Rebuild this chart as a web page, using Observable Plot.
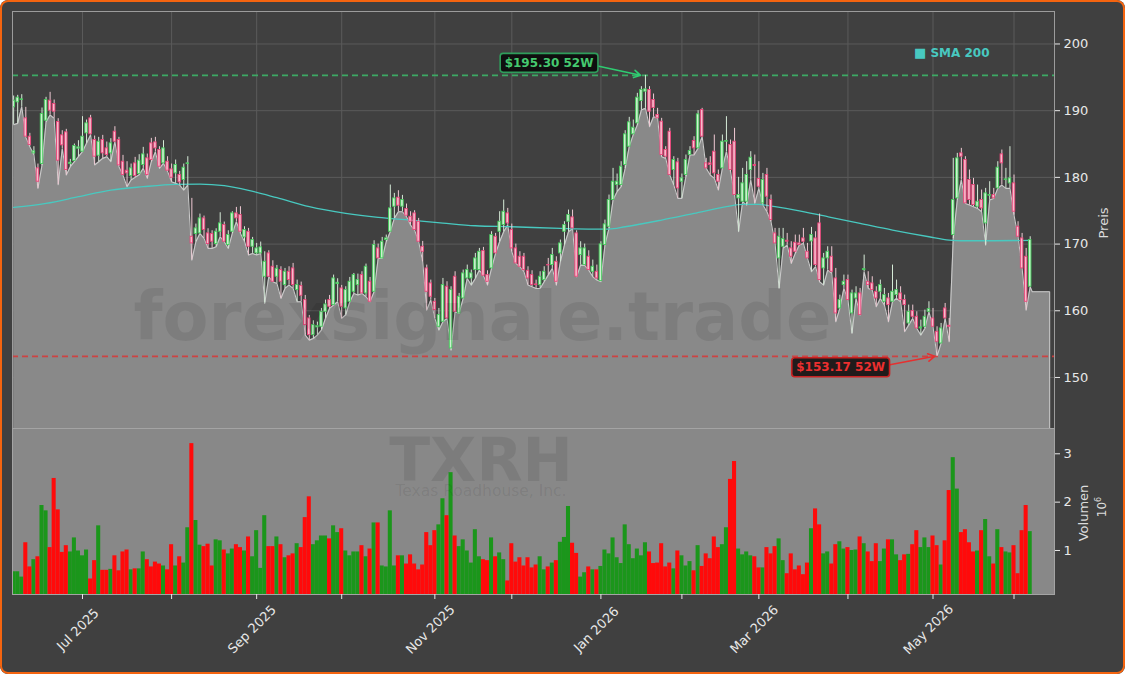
<!DOCTYPE html>
<html><head><meta charset="utf-8">
<script src="https://cdn.jsdelivr.net/npm/d3@7"></script>
<script src="https://cdn.jsdelivr.net/npm/@observablehq/plot@0.6"></script>
<style>
html,body{margin:0;padding:0;background:#ffffff;}
#fig{position:relative;width:1125px;height:674px;background:#404040;overflow:hidden;font-family:"DejaVu Sans",sans-serif;border-radius:8px;}
#border{position:absolute;left:0;top:0;width:1125px;height:674px;box-sizing:border-box;border:2.5px solid #f5640f;border-radius:8px;pointer-events:none;z-index:20;}
.ov{position:absolute;white-space:nowrap;pointer-events:none;z-index:5;}
.rot{transform:translate(-50%,-50%) rotate(-90deg);color:#dcdcdc;font-size:13px;}
.wm{font-weight:bold;color:rgba(0,0,0,0.085);transform:translateX(-50%);line-height:1;}
svg{position:absolute;left:0;}
</style></head>
<body>
<div id="fig"><div id="border"></div></div>
<script>
// ---- data (index = trading day, starting Jun 5 2025) ----
const open = [
190.5,191.25,191.6,188.85,186.1,183.6,181.35,182.0,188.5,191.5,
191.0,188.3,186.3,186.75,182.0,182.45,184.3,183.85,186.6,188.85,
185.6,183.25,185.6,184.35,183.6,186.85,185.6,182.35,181.0,180.2,
182.1,180.5,181.85,182.85,185.1,185.25,184.1,182.1,182.35,181.2,
180.6,180.35,179.6,182.0,171.1,171.5,171.6,173.85,171.6,171.5,
170.0,171.85,172.85,169.85,171.85,174.6,174.35,171.0,171.85,169.6,
168.6,168.6,165.1,168.6,166.6,165.1,166.1,163.85,165.85,166.35,
163.1,163.7,161.6,158.85,156.35,157.5,157.6,159.85,161.6,160.85,
164.0,163.35,160.35,161.35,162.85,163.85,165.35,162.6,164.35,162.85,
169.35,167.85,170.6,171.85,175.6,176.95,175.6,175.25,174.1,174.6,
173.35,169.6,166.35,164.1,161.35,157.6,158.35,163.6,154.35,165.1,
159.6,161.85,164.85,164.85,166.1,166.1,168.95,165.35,166.35,171.1,
171.85,172.85,174.6,172.1,169.35,168.1,168.1,166.0,165.35,163.95,
163.85,164.6,166.85,166.85,167.35,168.6,171.85,173.35,174.0,171.6,
168.35,166.85,168.1,165.85,165.85,164.45,169.85,172.6,176.6,178.85,
178.85,181.85,184.6,186.45,188.1,191.45,192.85,193.1,191.6,189.35,
188.35,184.1,186.85,181.1,182.25,179.35,180.35,183.35,185.45,184.35,
190.1,182.1,182.1,183.85,180.35,181.35,185.35,184.85,185.35,176.85,
176.35,176.35,181.1,181.85,179.75,176.1,180.35,176.6,171.6,167.85,
169.6,170.5,169.35,170.2,170.1,170.85,168.85,170.4,170.85,173.1,
166.35,167.85,168.1,164.85,160.35,163.85,164.6,159.6,161.85,162.6,
166.1,164.35,164.1,162.85,162.85,161.35,161.85,161.35,162.35,162.6,
161.6,158.1,159.95,159.1,157.35,157.6,159.85,158.85,156.85,155.1,
160.35,157.75,171.35,176.85,183.6,182.6,179.6,178.85,175.6,176.6,
173.1,177.25,177.35,178.35,183.45,179.6,179.1,179.1,172.6,170.85,
168.1,163.6];
const high = [
192.2,192.3,192.4,190.5,186.6,184.6,182.0,190.4,192.0,192.75,
191.6,188.8,187.0,187.2,182.7,185.0,185.5,189.1,188.6,189.3,
186.2,186.0,186.3,185.3,185.8,187.6,186.0,183.3,182.35,182.0,
183.0,183.4,184.5,183.5,185.85,186.0,184.6,185.5,183.1,182.0,
182.6,180.9,182.0,183.1,176.85,173.0,174.5,174.2,172.3,172.0,
172.3,174.7,173.3,172.0,174.85,175.5,175.6,172.6,172.35,171.0,
170.1,170.3,168.85,169.0,167.5,166.8,166.6,166.35,166.6,167.1,
164.6,164.3,162.3,159.3,158.5,158.3,160.35,161.6,162.3,165.35,
164.8,163.8,163.6,165.0,165.6,165.5,165.85,167.0,165.0,170.5,
170.0,171.0,171.35,178.85,177.6,178.0,177.3,176.0,174.85,175.0,
173.85,170.4,166.85,164.6,161.85,160.35,164.85,164.35,163.6,165.85,
162.6,166.1,166.85,166.1,168.6,169.35,169.5,166.0,171.85,171.6,
174.85,176.6,175.35,173.0,170.0,168.85,168.6,166.6,166.0,164.6,
165.85,166.6,167.85,169.35,168.1,170.6,173.35,175.1,175.1,172.0,
170.35,170.0,169.0,167.6,166.85,170.35,173.6,177.35,181.35,180.5,
182.35,187.0,189.0,188.6,192.6,193.6,195.3,193.6,192.5,190.35,
188.85,184.6,187.35,183.1,182.85,180.5,183.35,184.6,186.1,190.0,
190.35,182.85,183.1,186.35,181.1,186.35,189.1,185.6,187.35,180.0,
181.35,182.35,183.85,183.35,182.35,180.6,181.35,177.35,172.35,172.35,
172.35,171.6,170.35,171.35,171.35,172.35,170.1,172.5,171.85,174.5,
168.6,169.6,169.6,166.35,162.35,165.35,165.35,163.1,163.6,163.35,
168.35,165.85,165.1,163.6,164.6,163.35,162.6,166.85,164.6,163.6,
162.35,160.85,160.85,159.85,158.6,160.1,161.35,160.35,157.6,158.1,
161.1,158.85,182.85,183.6,184.35,183.1,181.1,179.85,178.85,178.1,
178.35,179.35,178.35,182.35,184.1,181.35,184.6,180.35,173.35,171.6,
169.35,171.1];
const low = [
187.9,188.1,190.6,186.0,184.6,183.4,178.35,181.8,188.3,189.35,
188.85,178.9,184.3,180.35,181.6,182.35,183.1,183.85,185.1,186.35,
181.85,182.35,182.85,183.1,182.35,185.35,181.6,180.3,178.6,179.6,
180.0,180.4,181.35,179.85,182.35,183.8,181.35,182.1,180.9,179.35,
179.1,178.85,178.1,178.85,167.6,170.35,171.6,170.85,169.35,169.35,
169.6,171.1,170.35,169.35,171.6,173.35,171.6,170.4,168.35,168.6,
168.35,168.6,161.1,165.1,164.35,164.1,161.85,163.35,163.85,163.35,
161.35,161.35,156.35,155.6,155.85,156.35,157.1,158.85,160.35,160.85,
161.35,158.85,159.4,161.3,162.6,162.35,162.6,162.1,161.35,162.85,
167.85,167.85,170.35,171.85,173.85,174.85,174.85,174.1,172.85,172.1,
170.35,167.35,160.1,161.6,158.85,157.1,158.35,158.85,154.1,159.85,
159.6,161.85,164.85,163.85,164.85,166.1,165.25,163.85,166.35,168.6,
170.35,171.85,172.85,168.85,167.1,166.6,165.85,163.85,163.6,163.35,
163.35,164.35,165.35,166.35,163.85,167.35,169.85,171.85,172.3,165.1,
166.85,166.8,166.1,165.1,164.6,164.35,169.85,172.35,176.6,177.85,
178.6,181.35,184.6,186.4,187.85,190.1,190.35,187.6,189.1,188.85,
183.1,182.85,180.35,178.85,176.85,176.85,180.1,183.35,183.35,184.35,
186.1,181.35,180.35,179.85,178.1,181.35,183.85,180.85,177.35,171.85,
176.35,175.85,179.6,176.1,178.35,175.85,174.85,173.35,170.1,163.35,
169.35,169.85,167.1,168.6,169.85,170.1,167.85,165.85,166.6,164.35,
163.85,166.1,165.6,158.35,160.35,163.35,161.6,156.6,161.85,159.35,
165.85,163.35,163.1,160.6,161.85,160.85,158.35,161.35,161.85,161.35,
156.85,157.85,158.85,157.35,156.35,157.35,159.85,157.6,153.17,155.1,
158.85,155.35,170.85,176.6,179.6,176.1,175.85,175.6,175.35,174.85,
169.85,176.6,176.85,178.35,178.85,178.35,178.35,174.35,171.1,166.35,
160.1,163.6];
const close = [
191.5,191.95,191.7,186.1,184.85,183.9,179.35,189.5,191.6,190.0,
189.85,182.5,184.8,181.1,182.2,184.7,184.5,186.1,188.1,186.45,
183.1,185.35,183.6,183.35,185.1,185.35,181.8,180.35,180.6,181.35,
180.2,182.5,183.45,180.35,182.6,184.35,181.6,184.35,181.0,179.95,
181.85,179.25,181.45,182.1,170.1,172.35,173.85,172.1,170.0,170.35,
171.85,173.1,170.35,171.35,174.6,173.85,171.85,172.1,169.6,170.6,
169.35,169.5,167.35,165.1,164.35,166.3,164.35,165.85,164.6,163.85,
163.85,162.25,157.85,156.35,157.85,157.7,159.85,160.95,160.6,164.85,
164.2,160.6,163.1,164.35,165.35,164.6,162.6,166.6,161.35,169.85,
167.85,170.35,170.85,175.35,176.85,175.75,176.6,174.25,173.35,172.1,
170.35,168.85,162.85,162.1,160.1,159.35,163.85,158.85,163.1,159.85,
162.1,165.6,166.1,165.6,167.85,168.85,165.25,164.35,171.35,168.6,
173.35,174.85,173.1,169.35,167.1,166.6,166.1,164.85,163.85,163.85,
165.1,165.85,166.8,168.35,164.35,170.1,172.85,174.35,172.35,165.1,
169.35,169.35,166.1,166.6,164.85,169.95,172.95,176.6,179.35,179.35,
181.6,186.45,188.25,187.45,191.95,193.1,193.2,189.85,190.4,188.85,
183.35,183.1,180.35,182.6,178.35,179.85,182.6,183.95,184.35,189.45,
186.1,181.35,181.85,180.6,179.35,185.35,185.45,181.1,177.35,177.35,
179.1,180.35,182.95,181.7,178.6,179.6,177.1,173.6,170.1,171.1,
170.75,170.35,168.1,168.85,169.85,170.35,167.85,171.35,166.85,164.6,
167.85,168.85,165.85,159.6,161.6,164.35,161.6,162.6,162.6,159.35,
166.25,163.85,163.1,161.85,163.85,162.35,160.85,162.85,163.1,161.6,
160.85,159.85,159.1,157.35,157.5,159.1,160.25,157.6,155.35,157.35,
158.85,157.6,176.6,182.85,183.1,176.1,176.6,175.85,176.35,175.35,
177.6,177.35,176.85,181.45,182.1,179.7,179.85,174.85,171.1,166.35,
161.35,170.6];
const volume = [ // millions
0.56,0.56,0.45,1.16,0.66,0.81,0.87,1.93,1.82,1.06,
2.49,1.84,0.96,1.1,0.97,1.26,0.99,0.89,1.01,0.41,
0.79,1.51,0.59,0.59,0.61,0.89,0.58,0.97,1.01,0.6,
0.62,0.62,0.97,0.81,0.66,0.76,0.72,0.68,0.6,1.12,
0.68,0.87,0.74,1.47,3.21,1.62,1.11,1.08,1.13,0.68,
1.22,1.2,1.01,0.93,1.03,1.12,1.06,0.99,1.28,0.87,
1.41,0.63,1.72,1.08,1.08,1.28,1.12,0.85,0.89,0.93,
1.14,1.06,1.68,2.11,1.12,1.2,1.3,1.3,1.24,1.51,
1.37,1.45,0.99,0.89,0.97,0.97,1.1,0.87,1.03,1.57,
1.57,0.68,0.66,1.82,0.68,0.89,0.89,0.72,0.91,0.72,
0.6,0.7,1.37,1.1,1.41,1.53,2.07,1.72,2.61,1.3,
1.08,1.22,0.99,0.74,1.43,0.87,0.81,0.79,1.26,0.87,
0.95,0.81,0.37,1.14,0.76,0.85,0.68,0.85,0.64,0.7,
0.87,0.6,0.66,0.74,0.79,1.17,1.27,1.91,1.15,0.94,
0.45,0.54,0.66,0.6,0.6,0.67,1.01,0.93,1.26,0.85,
0.73,1.53,1.12,0.83,1.03,0.89,1.16,0.97,0.73,0.74,
1.14,0.66,0.74,0.62,0.99,0.89,0.68,0.77,0.58,1.1,
0.67,0.93,0.83,1.28,1.06,1.12,1.47,2.47,2.84,1.03,
0.91,0.97,0.89,0.87,0.64,0.64,1.06,0.93,1.08,1.24,
0.79,0.52,0.93,0.6,0.68,0.5,0.74,1.45,1.86,1.53,
0.93,0.97,0.72,1.12,1.18,1.03,1.06,1.0,1.01,1.28,
1.14,0.97,0.77,1.14,0.77,1.03,1.22,1.22,0.91,0.79,
0.91,0.92,1.12,1.41,1.06,1.26,1.06,1.3,1.1,0.7,
1.2,2.24,2.92,2.27,1.37,1.43,1.16,0.97,0.99,1.41,
1.64,0.87,0.72,1.43,1.06,0.97,0.95,1.1,0.52,1.41,
1.93,1.39];
const smaIdx = [0,8,16,24,32,40,46,52,58,65,73,82,90,98,106,114,123,135,143,147,151,160,168,176,180,184,188,193,201,209,217,226,231,234,242,251];
const smaVal = [175.5,176.1,177.1,178.1,178.6,178.95,179.0,178.75,178.05,176.95,175.6,174.6,174.0,173.6,173.15,172.75,172.6,172.35,172.25,172.25,172.6,173.6,174.6,175.6,175.95,175.95,175.6,175.1,174.1,173.1,172.1,171.1,170.6,170.5,170.5,170.55];
const monthIdx = [17,39,60,81,104,123,145,165,184,206,227,247];
const monthLabel = ["Jul 2025","","Sep 2025","","Nov 2025","","Jan 2026","","Mar 2026","","May 2026",""];
const priceTicks = [150,160,170,180,190,200];
const volTicks = [1,2,3];
const tailLow = 162.85, tailStart = 251.5, tailEnd = 255.8;

// ---- scales / layout ----
const W = 1125, ML = 12, MR = 71;
const xDomain = [-0.284, 257.0];
const priceDomain = [142.35, 204.87];
const volDomain = [0.09, 3.523];
const FONT = "DejaVu Sans, sans-serif";

const bars = open.map((o, i) => ({i, o, h: high[i], l: low[i], c: close[i], v: volume[i], up: close[i] >= o}));
const upBars = bars.filter(d => d.up), dnBars = bars.filter(d => !d.up);
const areaData = low.map((v, i) => ({i, v})).concat([{i: tailStart, v: tailLow}, {i: tailEnd, v: tailLow}]);
const edgeData = areaData.concat([{i: tailEnd, v: priceDomain[0]}]);
const smaData = smaIdx.map((x, k) => ({x, y: smaVal[k]}));

const hiIdx = d3.maxIndex(high), hi = high[hiIdx];
const loIdx = d3.minIndex(low), lo = low[loIdx];
const hiText = `$${hi.toFixed(2)} 52W`, loText = `$${lo.toFixed(2)} 52W`;

const bw = 0.31;
const style = {background: "transparent", color: "#e8e8e8", fontFamily: FONT, fontSize: "13px", overflow: "visible"};

const price = Plot.plot({
  width: W, height: 428, marginLeft: ML, marginRight: MR, marginTop: 11, marginBottom: 0,
  style,
  x: {domain: xDomain, axis: null},
  y: {domain: priceDomain, axis: null},
  marks: [
    Plot.gridY(priceTicks, {stroke: "#5a5a5a", strokeOpacity: 1}),
    Plot.gridX(monthIdx, {stroke: "#5a5a5a", strokeOpacity: 1}),
    Plot.areaY(areaData, {x: "i", y1: priceDomain[0], y2: "v", fill: "#898989", clip: true}),
    Plot.line(edgeData, {x: "i", y: "v", stroke: "#c9c9c9", strokeWidth: 1.1, clip: true}),
    Plot.ruleY([hi], {stroke: "#3caa64", strokeWidth: 1.6, strokeDasharray: "6,4"}),
    Plot.ruleY([lo], {stroke: "#d43c3c", strokeWidth: 1.6, strokeDasharray: "6,4", strokeOpacity: 0.9}),
    Plot.line(smaData, {x: "x", y: "y", stroke: "#48c9c0", strokeWidth: 1.3, curve: "monotone-x"}),
    Plot.ruleX(upBars, {x: "i", y1: "l", y2: "h", stroke: "#d5ead7", strokeWidth: 1, clip: true}),
    Plot.ruleX(dnBars, {x: "i", y1: "l", y2: "h", stroke: "#efc9d3", strokeWidth: 1, clip: true}),
    Plot.rect(upBars, {x1: d => d.i - bw, x2: d => d.i + bw, y1: "o", y2: "c", fill: "#cdf0d0", stroke: "#45cc5c", strokeWidth: 0.9, clip: true}),
    Plot.rect(dnBars, {x1: d => d.i - bw, x2: d => d.i + bw, y1: "o", y2: "c", fill: "#f6bccc", stroke: "#ea4479", strokeWidth: 0.9, clip: true}),
    Plot.arrow([{}], {x1: hiIdx - 11.8, y1: hi + 1.4, x2: hiIdx - 1.2, y2: hi, stroke: "#2ecc71", strokeWidth: 1.6, headLength: 7}),
    Plot.arrow([{}], {x1: loIdx - 12, y1: lo - 1.3, x2: loIdx - 0.6, y2: lo, stroke: "#e63030", strokeWidth: 1.6, headLength: 7}),
    Plot.text([hiText], {x: hiIdx - 23.8, y: hi + 1.85, text: d => d, fill: "#45c96f", fontWeight: "bold", fontSize: 12, fontFamily: FONT}),
    Plot.text([loText], {x: loIdx - 23.8, y: lo - 1.67, text: d => d, fill: "#ec2f2f", fontWeight: "bold", fontSize: 12, fontFamily: FONT}),
    Plot.frame({stroke: "#9c9c9c", strokeWidth: 1}),
    Plot.axisY(priceTicks, {anchor: "right", tickSize: 5, tickPadding: 4, fontSize: 13, label: null, tickFormat: d => String(d)})
  ]
});

const labelData = monthIdx.map((i, k) => ({i, label: monthLabel[k]})).filter(d => d.label);

const vol = Plot.plot({
  width: W, height: 246, marginLeft: ML, marginRight: MR, marginTop: 0, marginBottom: 80,
  style,
  x: {domain: xDomain, axis: null},
  y: {domain: volDomain, axis: null},
  marks: [
    Plot.frame({fill: "#888888", stroke: null}),
    Plot.rect(upBars, {x1: d => d.i - 0.5, x2: d => d.i + 0.5, y1: volDomain[0], y2: "v", fill: "#1b961b", clip: true}),
    Plot.rect(dnBars, {x1: d => d.i - 0.5, x2: d => d.i + 0.5, y1: volDomain[0], y2: "v", fill: "#ff0a0a", clip: true}),
    Plot.frame({stroke: "#a4a4a4", strokeWidth: 1}),
    Plot.axisY(volTicks, {anchor: "right", tickSize: 5, tickPadding: 4, fontSize: 13, label: null, tickFormat: d => String(d)}),
    Plot.axisX(monthIdx, {anchor: "bottom", tickSize: 5, tickFormat: () => "", label: null}),
    Plot.text(labelData, {x: "i", text: "label", frameAnchor: "bottom", dy: 38, dx: -1.5, rotate: -45, textAnchor: "middle", fontSize: 13, fill: "#e8e8e8", fontFamily: FONT})
  ]
});

const fig = document.getElementById("fig");
price.style.top = "0px";
vol.style.top = "428px";
fig.appendChild(price);
fig.appendChild(vol);

// label boxes behind the 52W annotations
d3.select(price).selectAll("text").each(function() {
  const t = this.textContent;
  let st = null;
  if (t === hiText) st = {fill: "#0b0b0b", stroke: "#2f9d5b", op: 0.92};
  else if (t === loText) st = {fill: "#161010", stroke: "#c82222", op: 0.9};
  if (!st) return;
  const bb = this.getBBox();
  const r = document.createElementNS("http://www.w3.org/2000/svg", "rect");
  r.setAttribute("x", bb.x - 4.5);
  r.setAttribute("y", bb.y - 2.5);
  r.setAttribute("width", bb.width + 9);
  r.setAttribute("height", bb.height + 5);
  r.setAttribute("rx", 3);
  r.setAttribute("fill", st.fill);
  r.setAttribute("fill-opacity", st.op);
  r.setAttribute("stroke", st.stroke);
  r.setAttribute("stroke-width", 1.6);
  if (this.getAttribute("transform")) r.setAttribute("transform", this.getAttribute("transform"));
  this.parentNode.insertBefore(r, this);
});

// overlays: watermarks, legend, axis titles
function ov(html, css, cls) {
  const d = document.createElement("div");
  d.className = "ov " + (cls || "");
  d.innerHTML = html;
  Object.assign(d.style, css);
  fig.appendChild(d);
  return d;
}
ov("forexsignale.trade", {left: "482.5px", top: "284px", fontSize: "67px"}, "wm");
ov("TXRH", {left: "481px", top: "437.5px", fontSize: "60px", lineHeight: "0.75"}, "wm");
ov("Texas Roadhouse, Inc.", {left: "481px", top: "484px", fontSize: "15.5px", fontWeight: "normal"}, "wm");
ov('<span style="font-size:13px">■</span> SMA 200', {left: "914px", top: "45px", fontSize: "12px", fontWeight: "bold", color: "#48c9c0"});
ov("Preis", {left: "1102.5px", top: "222.5px"}, "rot");
ov("Volumen", {left: "1083px", top: "513px"}, "rot");
ov('10<sup style="font-size:8px">6</sup>', {left: "1101px", top: "507px", fontSize: "12px"}, "rot");
</script>
</body></html>
